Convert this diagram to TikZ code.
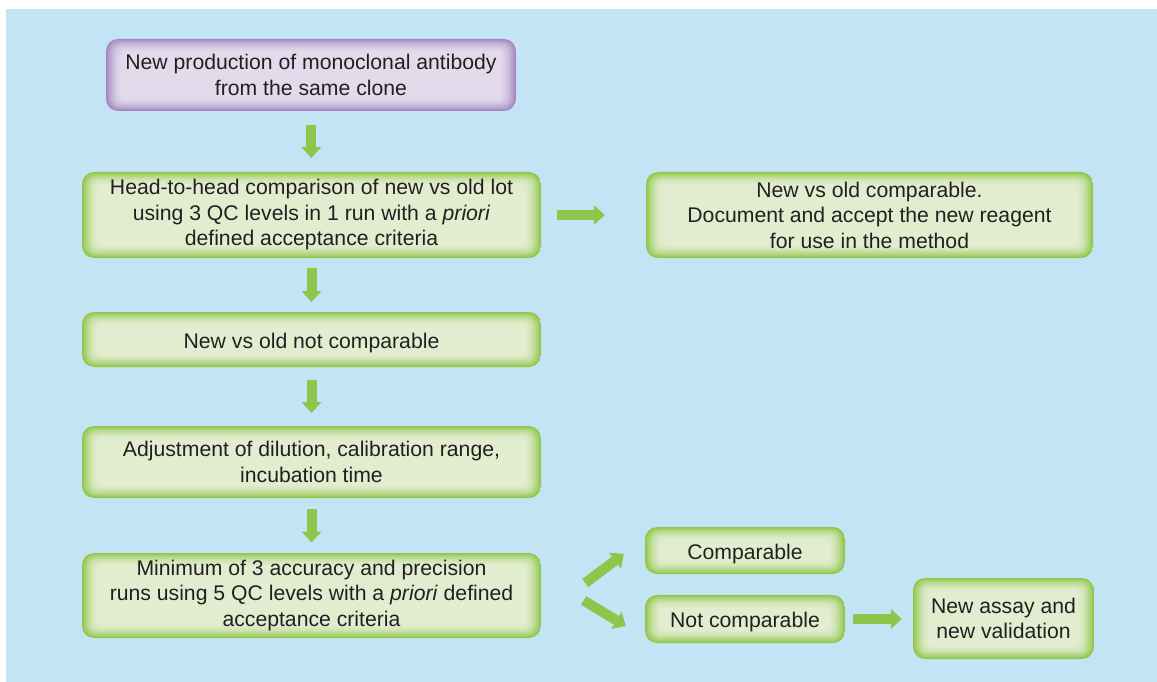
\documentclass[tikz,border=0pt]{standalone}
\usepackage{fontspec}
\setmainfont{Liberation Sans}
\usetikzlibrary{arrows.meta,calc}
\definecolor{bgblue}{HTML}{C2E4F5}
\definecolor{gedge}{HTML}{8FC64A}
\definecolor{gin}{HTML}{E2EDD0}
\definecolor{pedge}{HTML}{A387C0}
\definecolor{pin}{HTML}{E3DBEC}
\definecolor{agreen}{HTML}{8CC64A}
\definecolor{txt}{HTML}{231F20}
\newcommand\glowlayers[2]{%
  \foreach \k in {0,...,17}{%
    \pgfmathsetmacro\pct{100*(1-\k/17)^1.8}%
    \pgfmathsetmacro\rr{max(12-0.5*\k,3)}%
    \colorlet{glowtmp}{#1!\pct!#2}%
    \fill[glowtmp, rounded corners=\rr pt]
      ([shift={(\k pt,-0.8*\k pt)}]path picture bounding box.north west) rectangle
      ([shift={(-\k pt,0.8*\k pt)}]path picture bounding box.south east);
  }}
\tikzset{
  gbox/.style={rounded corners=12pt, align=center, text=txt, fill=gin,
    font=\fontsize{21.2}{25.5}\selectfont, inner sep=0pt,
    execute at begin node={\rule{0pt}{21.5pt}},
    path picture={\glowlayers{gedge}{gin}}},
  pbox/.style={gbox, fill=pin, path picture={\glowlayers{pedge}{pin}}},
  barrow/.style={draw=agreen, line width=10pt,
    -{Triangle[width=20pt,length=11pt,line width=0pt]}}
}
\begin{document}
\begin{tikzpicture}[x=1pt,y=-1pt]
\useasboundingbox (0,0) rectangle (1157,682);
\fill[bgblue] (6,9) rectangle (1157,682);

\node[pbox, minimum width=410pt, minimum height=72pt] (prod) at (311,75)
  {New production of monoclonal antibody\\from the same clone};
\node[gbox, minimum width=459pt, minimum height=86pt] (h2h) at (311.5,215)
  {Head-to-head comparison of new vs old lot\\using 3 QC levels in 1 run with a \textit{priori}\\defined acceptance criteria};
\node[gbox, minimum width=447pt, minimum height=86pt] (ok) at (869.5,215)
  {New vs old comparable.\\Document and accept the new reagent\\for use in the method};
\node[gbox, minimum width=459pt, minimum height=55pt] (notc1) at (311.5,339.5)
  {New vs old not comparable};
\node[gbox, minimum width=459pt, minimum height=72pt] (adj) at (311.5,462)
  {Adjustment of dilution, calibration range,\\incubation time};
\node[gbox, minimum width=459pt, minimum height=85pt] (minrun) at (311.5,595.5)
  {Minimum of 3 accuracy and precision\\runs using 5 QC levels with a \textit{priori} defined\\acceptance criteria};
\node[gbox, minimum width=200pt, minimum height=47pt] (cmp) at (745,550.5)
  {Comparable};
\node[gbox, minimum width=200pt, minimum height=48pt] (notc) at (745,619)
  {Not comparable};
\node[gbox, minimum width=181pt, minimum height=81pt] (assay) at (1003.5,618.5)
  {New assay and\\new validation};

\draw[barrow] ($(prod.south)!0.5!(h2h.north)+(0,-16.5)$) -- ++(0,33);
\draw[barrow] ($(h2h.south)!0.5!(notc1.north)+(0,-17)$) -- ++(0,34);
\draw[barrow] ($(notc1.south)!0.5!(adj.north)+(0,-16.5)$) -- ++(0,33);
\draw[barrow] ($(adj.south)!0.5!(minrun.north)+(0,-17)$) -- ++(0,34);
\draw[barrow] ($(h2h.east)+(16,0)$) -- ($(ok.west)+(-41,0)$);
\draw[barrow] ($(notc.east)+(8,0)$) -- ($(assay.west|-notc.east)+(-11,0)$);
\draw[barrow] ($(minrun.east)+(44,-12.5)$) -- ($(cmp.west)+(-21,3.5)$);
\draw[barrow] ($(minrun.east)+(42.5,5)$) -- ($(notc.west)+(-19,7)$);
\end{tikzpicture}
\end{document}
